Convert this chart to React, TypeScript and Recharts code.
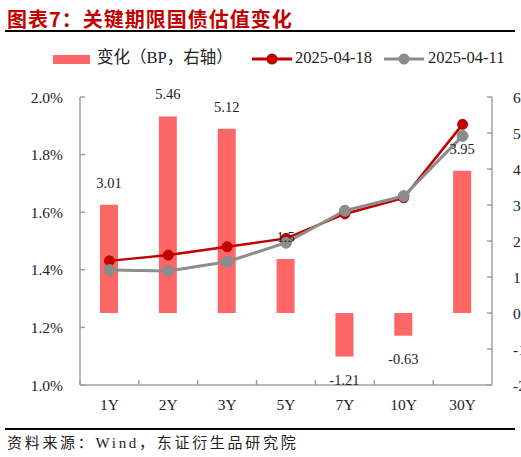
import {
  ComposedChart,
  Bar,
  Line,
  XAxis,
  YAxis,
  Legend,
  LabelList,
} from 'recharts';

const categories = ['1Y', '2Y', '3Y', '5Y', '7Y', '10Y', '30Y'];
const changeBp = [3.01, 5.46, 5.12, 1.5, -1.21, -0.63, 3.95];
const yield0418 = [1.431, 1.451, 1.48, 1.509, 1.594, 1.65, 1.905];
const yield0411 = [1.399, 1.396, 1.428, 1.494, 1.605, 1.656, 1.865];
const leftTicks = [1.0, 1.2, 1.4, 1.6, 1.8, 2.0];
const rightTicks = [-2, -1, 0, 1, 2, 3, 4, 5, 6];

const RED = '#C00000';
const GREY = '#8C8C8C';
const BAR = '#FF6666';
const AXIS = '#A0A0A0';
const TEXT = '#222';
const FONT = '"Liberation Serif", "Noto Sans CJK SC", serif';

const CHART_W = 540;
const CHART_H = 385;
const LEFT_W = 80;
const RIGHT_W = 48;
const PLOT_W = CHART_W - LEFT_W - RIGHT_W;
const X_TICK_MARGIN = 14;

const data = categories.map((c, i) => ({
  term: c,
  change: changeBp[i],
  d0418: yield0418[i],
  d0411: yield0411[i],
}));

// tick labels under the category centre, small tick marks on the band boundaries
const CategoryTick = (props: any) => {
  const { x, y, payload } = props;
  const half = PLOT_W / categories.length / 2;
  const axisY = y - X_TICK_MARGIN;
  return (
    <g>
      <line x1={x - half} x2={x - half} y1={axisY} y2={axisY - 5} stroke={AXIS} strokeWidth={1.5} />
      <text x={x} y={y} dy="0.71em" textAnchor="middle" fill={TEXT} fontSize={15.5} fontFamily={FONT}>
        {payload.value}
      </text>
    </g>
  );
};

const BarValueLabel = (props: any) => {
  const { x, y, width, height, value } = props;
  const top = Math.min(y, y + height);
  const bottom = Math.max(y, y + height);
  const ty = value >= 0 ? top - 17 : bottom + 28;
  return (
    <text x={x + width / 2} y={ty} textAnchor="middle" fill={TEXT} fontSize={14.5} fontFamily={FONT}>
      {value}
    </text>
  );
};

const LineIcon = ({ color }: { color: string }) => (
  <svg width={40} height={14} style={{ verticalAlign: 'middle' }}>
    <line x1={0} x2={40} y1={7} y2={7} stroke={color} strokeWidth={3} />
    <circle cx={20} cy={7} r={5.5} fill={color} />
  </svg>
);

const LegendContent = () => (
  <div style={{ height: 20, fontSize: 16.5, fontFamily: FONT, color: TEXT, whiteSpace: 'nowrap', lineHeight: '20px' }}>
    <span style={{ display: 'inline-block', width: 199 }}>
      <span style={{ display: 'inline-block', width: 37, height: 9, background: BAR, verticalAlign: 'middle', marginRight: 7 }} />
      变化（BP，右轴）
    </span>
    <span style={{ display: 'inline-block', width: 132 }}>
      <LineIcon color={RED} />
      <span style={{ marginLeft: 3 }}>2025-04-18</span>
    </span>
    <span style={{ display: 'inline-block' }}>
      <LineIcon color={GREY} />
      <span style={{ marginLeft: 4 }}>2025-04-11</span>
    </span>
  </div>
);

export default function App() {
  return (
    <div
      style={{
        position: 'absolute',
        left: 0,
        top: 0,
        width: 521,
        height: 457,
        overflow: 'hidden',
        background: '#fff',
        fontFamily: FONT,
      }}
    >
      <div
        style={{
          position: 'absolute',
          left: 7,
          top: 4,
          fontSize: 20,
          letterSpacing: 1,
          fontWeight: 'bold',
          color: RED,
          fontFamily: '"Noto Sans CJK SC", sans-serif',
          whiteSpace: 'nowrap',
        }}
      >
        图表7：关键期限国债估值变化
      </div>
      <div style={{ position: 'absolute', left: 5, top: 30, width: 510, height: 1.5, background: '#000' }} />

      <div style={{ position: 'absolute', left: 0, top: 40 }}>
        <ComposedChart
          width={CHART_W}
          height={CHART_H}
          data={data}
          margin={{ top: 37, right: 0, bottom: 10, left: 0 }}
        >
          <Legend
            verticalAlign="top"
            align="left"
            content={<LegendContent />}
            wrapperStyle={{ left: 53, top: 8, width: 470 }}
          />
          <XAxis
            dataKey="term"
            xAxisId={0}
            height={30}
            tickLine={false}
            tickSize={0}
            tickMargin={X_TICK_MARGIN}
            axisLine={{ stroke: AXIS, strokeWidth: 1.5 }}
            tick={<CategoryTick />}
            interval={0}
          />
          <YAxis
            yAxisId="left"
            width={LEFT_W}
            domain={[1.0, 2.0]}
            ticks={leftTicks}
            tickFormatter={(v: number) => `${v.toFixed(1)}%`}
            tickSize={-5}
            tickMargin={22}
            tickLine={{ stroke: AXIS, strokeWidth: 1.5 }}
            axisLine={{ stroke: AXIS, strokeWidth: 1.5 }}
            tick={{ fill: TEXT, fontSize: 15.5, fontFamily: FONT }}
            allowDataOverflow
          />
          <YAxis
            yAxisId="right"
            orientation="right"
            width={RIGHT_W}
            domain={[-2, 6]}
            ticks={rightTicks}
            interval={0}
            tickSize={-5}
            tickMargin={26}
            tickLine={{ stroke: AXIS, strokeWidth: 1.5 }}
            axisLine={{ stroke: AXIS, strokeWidth: 1.5 }}
            tick={{ fill: TEXT, fontSize: 15.5, fontFamily: FONT, textAnchor: 'start' }}
          />
          <Bar
            dataKey="change"
            name="变化（BP，右轴）"
            yAxisId="right"
            fill={BAR}
            barSize={18}
            isAnimationActive={false}
          >
            <LabelList dataKey="change" content={<BarValueLabel />} />
          </Bar>
          <Line
            dataKey="d0418"
            name="2025-04-18"
            yAxisId="left"
            stroke={RED}
            strokeWidth={2.5}
            dot={{ r: 5, fill: RED, stroke: RED, strokeWidth: 1 }}
            isAnimationActive={false}
          />
          <Line
            dataKey="d0411"
            name="2025-04-11"
            yAxisId="left"
            stroke={GREY}
            strokeWidth={3}
            dot={{ r: 5.5, fill: GREY, stroke: GREY, strokeWidth: 1 }}
            isAnimationActive={false}
          />
        </ComposedChart>
      </div>

      <div style={{ position: 'absolute', left: 5, top: 428, width: 510, height: 1.5, background: '#000' }} />
      <div
        style={{
          position: 'absolute',
          left: 7,
          top: 431,
          fontSize: 15,
          letterSpacing: 2.7,
          color: TEXT,
          whiteSpace: 'nowrap',
        }}
      >
        资料来源：Wind，东证衍生品研究院
      </div>
    </div>
  );
}
